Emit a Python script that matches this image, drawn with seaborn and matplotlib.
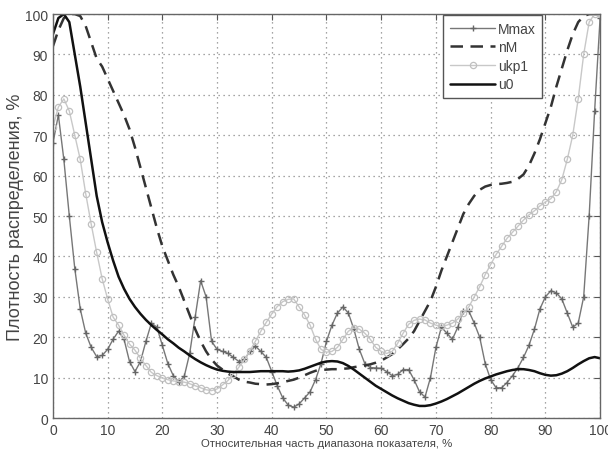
import numpy as np
import pandas as pd
import matplotlib
matplotlib.use("Agg")
import matplotlib.pyplot as plt
import seaborn as sns

x = list(range(0, 101))

mmax = [68, 75, 64, 50, 37, 27, 21, 17.5, 15.2, 15.5,
        17, 19.5, 21.5, 19.5, 14, 11.5, 14, 19, 23.5, 22.5,
        18, 13.5, 10.5, 9, 10.3, 16, 25, 34, 30, 19,
        17, 16.5, 16, 15, 14, 14.5, 16.5, 17.8, 16.5, 15,
        11.5, 8, 5, 3.2, 2.7, 3.5, 5, 6.5, 9.5, 13.5,
        19, 23, 26, 27.5, 26, 22, 17, 13.5, 12.5, 12.4,
        12.3, 11.5, 10.5, 10.8, 12, 12, 9.5, 6.5, 5.2, 10,
        17.5, 22.5, 21, 19.5, 22.5, 26.5, 26.5, 23.5, 20, 13.5,
        9.5, 7.5, 7.5, 8.8, 10.5, 12.5, 15, 18, 22, 27,
        30, 31.5, 31, 29.5, 26, 22.5, 23.5, 30, 50, 76,
        99]

nm = [92, 96, 99, 100, 100, 99.5, 97, 93, 89, 87,
      84, 81, 78, 75, 71.5, 67, 62, 57, 52, 47,
      42.5, 39, 35.5, 32.5, 29, 25.5, 22, 19, 16.5, 14.5,
      13, 12, 11, 10.3, 9.5, 9, 8.8, 8.5, 8.4, 8.3,
      8.4, 8.6, 8.9, 9.2, 9.5, 10, 10.6, 11.2, 11.7, 11.9,
      12, 12.1, 12.1, 12.2, 12.3, 12.6, 12.8, 13, 13.3, 13.7,
      14.2, 15, 15.8, 17, 18.3, 19.7, 21.5, 24, 26.5, 29,
      32.5, 36.5, 40, 43.5, 47, 50.5, 53, 55, 56.5, 57.3,
      57.7, 57.9, 58, 58.2, 58.5, 59.2, 60.3, 62.5, 65.5, 69,
      73, 77, 82, 86.5, 91, 95, 98, 99.5, 100, 100,
      100]

ukp1 = [72, 77, 79, 76, 70, 64, 55.5, 48, 41, 34.5,
        29.5, 25, 23, 20.5, 18.3, 16.8, 14.8, 13, 11.3, 10.5,
        9.9, 9.5, 9.2, 9, 8.9, 8.5, 8, 7.5, 7, 6.8,
        7.2, 8.2, 9.3, 11, 12.6, 14.5, 16.6, 19, 21.5, 23.7,
        25.8, 27.6, 28.8, 29.4, 29.5, 27.5, 25.5, 23, 19.5, 17,
        16.3, 16.5, 17.5, 19.5, 21.5, 22.3, 22, 21, 19.5, 17.5,
        16.5, 16, 16.5, 18.5, 21, 23.2, 24.2, 24.5, 24.3, 23.5,
        23, 22.7, 23, 23.5, 24.5, 26, 27.5, 30, 32.5, 35.5,
        38, 40.5, 42.5, 44.5, 46, 47.5, 49, 50.3, 51.3, 52.5,
        53.5, 54.3, 56, 59, 64, 70, 79, 90, 98, 100,
        100]

u0 = [95, 99, 100, 98, 90, 82, 73, 64, 55, 48.5,
      43.5, 39, 35, 32, 29.5, 27.5, 25.8, 24.3, 23, 21.8,
      20.7, 19.5, 18.5, 17.4, 16.5, 15.5, 14.6, 13.8, 13.1, 12.5,
      12, 11.7, 11.5, 11.4, 11.4, 11.4, 11.4, 11.5, 11.6, 11.6,
      11.6, 11.6, 11.6, 11.5, 11.6, 11.8, 12.2, 12.7, 13.2, 13.7,
      14, 14.1, 14, 13.6, 12.9, 12, 11, 10, 9, 8,
      7.2, 6.4, 5.6, 4.9, 4.3, 3.7, 3.3, 3, 3, 3.2,
      3.6, 4.1, 4.7, 5.4, 6.1, 6.9, 7.7, 8.5, 9.2, 9.8,
      10.3, 10.8, 11.2, 11.6, 11.9, 12.1, 12.1, 11.9, 11.6, 11.1,
      10.7, 10.5, 10.6, 11, 11.6, 12.4, 13.3, 14.1, 14.8, 15.1,
      14.8]

sns.set_style("white")
plt.rcParams['font.family'] = ['Liberation Sans', 'DejaVu Sans']

fig = plt.figure(figsize=(6.08, 4.56), dpi=100)
ax = fig.add_axes([0.087, 0.081, 0.900, 0.886])

sns.lineplot(x=x, y=mmax, ax=ax, color='#777777', linewidth=1.0,
             marker='+', markersize=5, markeredgewidth=1.0,
             markeredgecolor='#666666', label='Mmax')
sns.lineplot(x=x, y=nm, ax=ax, color='#333333', linewidth=1.8,
             linestyle=(0, (5, 3)), label='nM')
sns.lineplot(x=x, y=ukp1, ax=ax, color='#c8c8c8', linewidth=1.0,
             marker='o', markersize=4.5, markerfacecolor='none',
             markeredgecolor='#c0c0c0', markeredgewidth=0.9, label='ukp1')
sns.lineplot(x=x, y=u0, ax=ax, color='#111111', linewidth=1.8, label='u0')

ax.set_xlim(0, 100)
ax.set_ylim(0, 100)
ax.set_xticks(range(0, 101, 10))
ax.set_yticks(range(0, 101, 10))
ax.grid(True, linestyle=(0, (1, 3)), color='#888888', linewidth=0.9)
ax.tick_params(direction='in', top=True, right=True, length=4,
               labelsize=10, colors='#555555', labelcolor='#444444')
for s in ax.spines.values():
    s.set_color('#666666')
    s.set_linewidth(1.0)

ax.set_xlabel('Относительная часть диапазона показателя, %', fontsize=8.2,
              family=['Liberation Sans Narrow', 'Liberation Sans'],
              color='#444444', labelpad=1)
ax.set_ylabel('Плотность распределения, %', fontsize=13,
              family=['Liberation Sans Narrow', 'Liberation Sans'],
              color='#444444', labelpad=1)

leg = ax.legend(loc='upper right', bbox_to_anchor=(0.897, 1.0),
                borderaxespad=0.1, fontsize=10,
                frameon=True, fancybox=False, framealpha=1,
                edgecolor='#555555', handlelength=3.3, borderpad=0.45,
                labelspacing=0.33, handletextpad=0.2, markerscale=1.0)
leg.get_frame().set_linewidth(1.0)
for t in leg.get_texts():
    t.set_color('#444444')

plt.savefig("out.png", dpi=100)
